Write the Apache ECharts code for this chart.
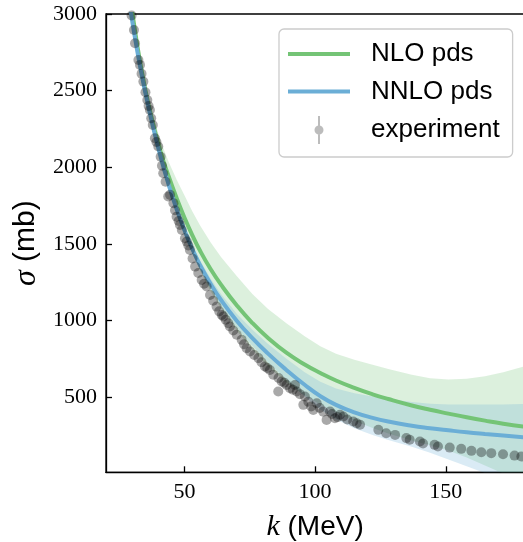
<!DOCTYPE html>
<html>
<head>
<meta charset="utf-8">
<script src="https://cdn.jsdelivr.net/npm/echarts@6/dist/echarts.min.js"></script>
<style>
html,body{margin:0;padding:0;background:#fff;}
#chart{width:523px;height:542px;}
</style>
</head>
<body>
<div id="chart"></div>
<script>
// ---- data ----
const kModel    = [29, 32, 35, 38, 41, 44, 47, 50, 53, 56, 60, 64, 70, 76, 82, 89, 96, 102, 108, 115, 122, 128, 137, 144, 151, 158, 165, 172, 180];
const nloLine   = [3144, 2793, 2509, 2285, 2095, 1940, 1800, 1672, 1558, 1455, 1336, 1234, 1100, 984, 886, 790, 713, 658, 609, 561, 519, 488, 446, 418, 393, 369, 347, 327, 308];
const nloUpper  = [3154, 2813, 2539, 2335, 2165, 2035, 1920, 1817, 1713, 1620, 1511, 1414, 1290, 1174, 1076, 982, 898, 832, 784, 744, 711, 684, 646, 623, 615, 620, 636, 662, 700];
const nloLower  = [3134, 2778, 2489, 2255, 2050, 1880, 1720, 1572, 1443, 1325, 1191, 1079, 935, 809, 701, 595, 513, 453, 399, 346, 299, 263, 218, 186, 153, 107, 55, 2, -62];
const nnloLine  = [3066, 2754, 2490, 2262, 2061, 1884, 1728, 1590, 1468, 1362, 1240, 1134, 999, 885, 784, 678, 581, 507, 450, 401, 365, 341, 314, 298, 284, 271, 260, 250, 238];
const nnloUpper = [3071, 2760, 2498, 2272, 2073, 1899, 1746, 1612, 1494, 1392, 1275, 1174, 1045, 940, 847, 750, 663, 600, 556, 525, 505, 490, 469, 458, 452, 452, 452, 453, 455];
const nnloLower = [3061, 2748, 2482, 2252, 2049, 1869, 1710, 1568, 1442, 1332, 1205, 1094, 954, 835, 727, 612, 505, 420, 355, 298, 253, 220, 176, 138, 94, 49, 5, -40, -92];

const kExp = [29.8, 30.7, 31.1, 32.4, 33.0, 33.6, 34.3, 35.1, 35.8, 36.3, 36.8, 37.3, 37.9, 38.7, 39.3, 40.0, 40.9, 41.4, 41.9, 42.8, 43.8, 44.5, 45.8, 46.4, 47.0, 47.8, 48.3, 49.0, 50.2, 50.9, 51.5, 52.1, 53.1, 54.1, 55.3, 56.6, 57.5, 58.5, 59.8, 61.0, 62.3, 63.3, 64.3, 64.9, 65.8, 66.8, 67.4, 68.7, 70.0, 71.9, 72.8, 73.8, 75.1, 76.7, 78.3, 79.5, 80.8, 81.7, 82.7, 84.0, 85.9, 86.0, 87.2, 88.2, 89.1, 90.4, 91.5, 92.3, 93.0, 94.2, 95.5, 96.1, 97.4, 98.5, 99.3, 100.6, 101.8, 103.1, 104.4, 105.7, 106.5, 107.6, 108.6, 109.5, 110.8, 112.3, 114.6, 115.9, 117.2, 124.2, 127.2, 130.6, 134.9, 136.2, 140.1, 141.3, 145.7, 147.0, 151.5, 155.9, 159.8, 163.6, 167.4, 171.9, 176.3, 178.9];
const sigmaExp = [2990, 2896, 2809, 2700, 2668, 2610, 2559, 2490, 2439, 2400, 2374, 2320, 2276, 2189, 2165, 2135, 2069, 2010, 1961, 1905, 1809, 1820, 1766, 1720, 1678, 1650, 1624, 1591, 1537, 1515, 1490, 1461, 1405, 1352, 1310, 1265, 1240, 1222, 1167, 1130, 1091, 1060, 1037, 1026, 1005, 983, 961, 935, 907, 874, 845, 820, 798, 775, 755, 728, 700, 690, 678, 646, 537, 625, 602, 595, 580, 559, 548, 580, 537, 520, 450, 504, 471, 440, 417, 461, 430, 406, 352, 406, 390, 363, 370, 385, 374, 355, 341, 330, 320, 287, 265, 254, 233, 222, 211, 198, 189, 178, 171, 163, 150, 141, 135, 128, 119, 113];

const xTicks = [50, 100, 150];
const yTicks = [500, 1000, 1500, 2000, 2500, 3000];

// ---- chart ----
const GREEN = '#74c476', BLUE = '#6baed6';
function pairs(xs, ys) { return xs.map((x, i) => [x, ys[i]]); }
function band(upper, lower, fill) {
  return function (params, api) {
    if (params.dataIndex !== 0) return null;
    const pts = [];
    for (let i = 0; i < kModel.length; i++) pts.push(api.coord([kModel[i], upper[i]]));
    for (let i = kModel.length - 1; i >= 0; i--) pts.push(api.coord([kModel[i], lower[i]]));
    return { type: 'polygon', shape: { points: pts }, style: { fill: fill } };
  };
}

const chart = echarts.init(document.getElementById('chart'), null, { renderer: 'canvas' });
const sans = 'Liberation Sans';
const serif = 'Liberation Serif';
chart.setOption({
  animation: false,
  backgroundColor: '#ffffff',
  grid: { left: 106, top: 14, width: 418.2, height: 458.3, show: true, borderColor: '#000', borderWidth: 1.3,
          backgroundColor: 'transparent', containLabel: false, outerBoundsMode: 'none' },
  xAxis: {
    type: 'value', min: 20, max: 180,
    name: '{i|k} (MeV)', nameLocation: 'middle', nameGap: 40,
    nameTextStyle: { fontFamily: sans, fontSize: 28, color: '#000', rich: { i: { fontFamily: serif, fontStyle: 'italic', fontSize: 30, color: '#000' } } },
    axisLine: { show: true, onZero: false, lineStyle: { color: '#000', width: 1.3 } },
    axisTick: { show: true, inside: true, length: 6, lineStyle: { color: '#000', width: 1.3 }, customValues: xTicks },
    axisLabel: { customValues: xTicks, margin: 9, fontFamily: serif, fontSize: 22, color: '#000', formatter: v => String(v) },
    splitLine: { show: false }
  },
  yAxis: {
    type: 'value', min: 10, max: 3000,
    name: '{i|σ} (mb)', nameLocation: 'middle', nameGap: 62,
    nameTextStyle: { fontFamily: sans, fontSize: 30, color: '#000', rich: { i: { fontFamily: serif, fontStyle: 'italic', fontSize: 32, color: '#000' } } },
    axisLine: { show: true, onZero: false, lineStyle: { color: '#000', width: 1.3 } },
    axisTick: { show: true, inside: true, length: 6, lineStyle: { color: '#000', width: 1.3 }, customValues: yTicks },
    axisLabel: { customValues: yTicks, margin: 9, fontFamily: serif, fontSize: 22, color: '#000', formatter: v => String(v) },
    splitLine: { show: false }
  },
  legend: {
    orient: 'vertical', left: 279, top: 29,
    padding: [12, 13, 13, 9], itemGap: 11.5,
    itemWidth: 62, itemHeight: 28,
    backgroundColor: 'rgba(255,255,255,0.8)', borderColor: '#cccccc', borderWidth: 1.3, borderRadius: 5,
    textStyle: { fontFamily: sans, fontSize: 26, color: '#000', padding: [0, 0, 0, 16] },
    data: [
      { name: 'NLO pds', icon: 'path://M0,0L62,0L62,4L0,4Z' },
      { name: 'NNLO pds', icon: 'path://M0,0L62,0L62,4L0,4Z' },
      { name: 'experiment', icon: 'path://M4,0L6,0L6,28L4,28Z M0.5,14A4.5,4.5 0 1,1 9.5,14A4.5,4.5 0 1,1 0.5,14Z', itemStyle: { color: '#ababab' } }
    ]
  },
  series: [
    { name: 'NLO band', type: 'custom', clip: true, silent: true, renderItem: band(nloUpper, nloLower, 'rgba(116,196,118,0.25)'), data: [[kModel[0], nloUpper[0]]], z: 2 },
    { name: 'NLO pds', type: 'line', data: pairs(kModel, nloLine), showSymbol: false, symbol: 'none', smooth: 0.5, clip: true,
      lineStyle: { color: GREEN, width: 4 }, itemStyle: { color: GREEN }, z: 2 },
    { name: 'NNLO band', type: 'custom', clip: true, silent: true, renderItem: band(nnloUpper, nnloLower, 'rgba(107,174,214,0.25)'), data: [[kModel[0], nnloUpper[0]]], z: 2 },
    { name: 'NNLO pds', type: 'line', data: pairs(kModel, nnloLine), showSymbol: false, symbol: 'none', smooth: 0.5, clip: true,
      lineStyle: { color: BLUE, width: 4 }, itemStyle: { color: BLUE }, z: 2 },
    { name: 'experiment', type: 'scatter', data: pairs(kExp, sigmaExp), symbol: 'circle', symbolSize: 10, clip: true,
      itemStyle: { color: 'rgba(0,0,0,0.42)' }, z: 2 }
  ]
});
</script>
</body>
</html>
